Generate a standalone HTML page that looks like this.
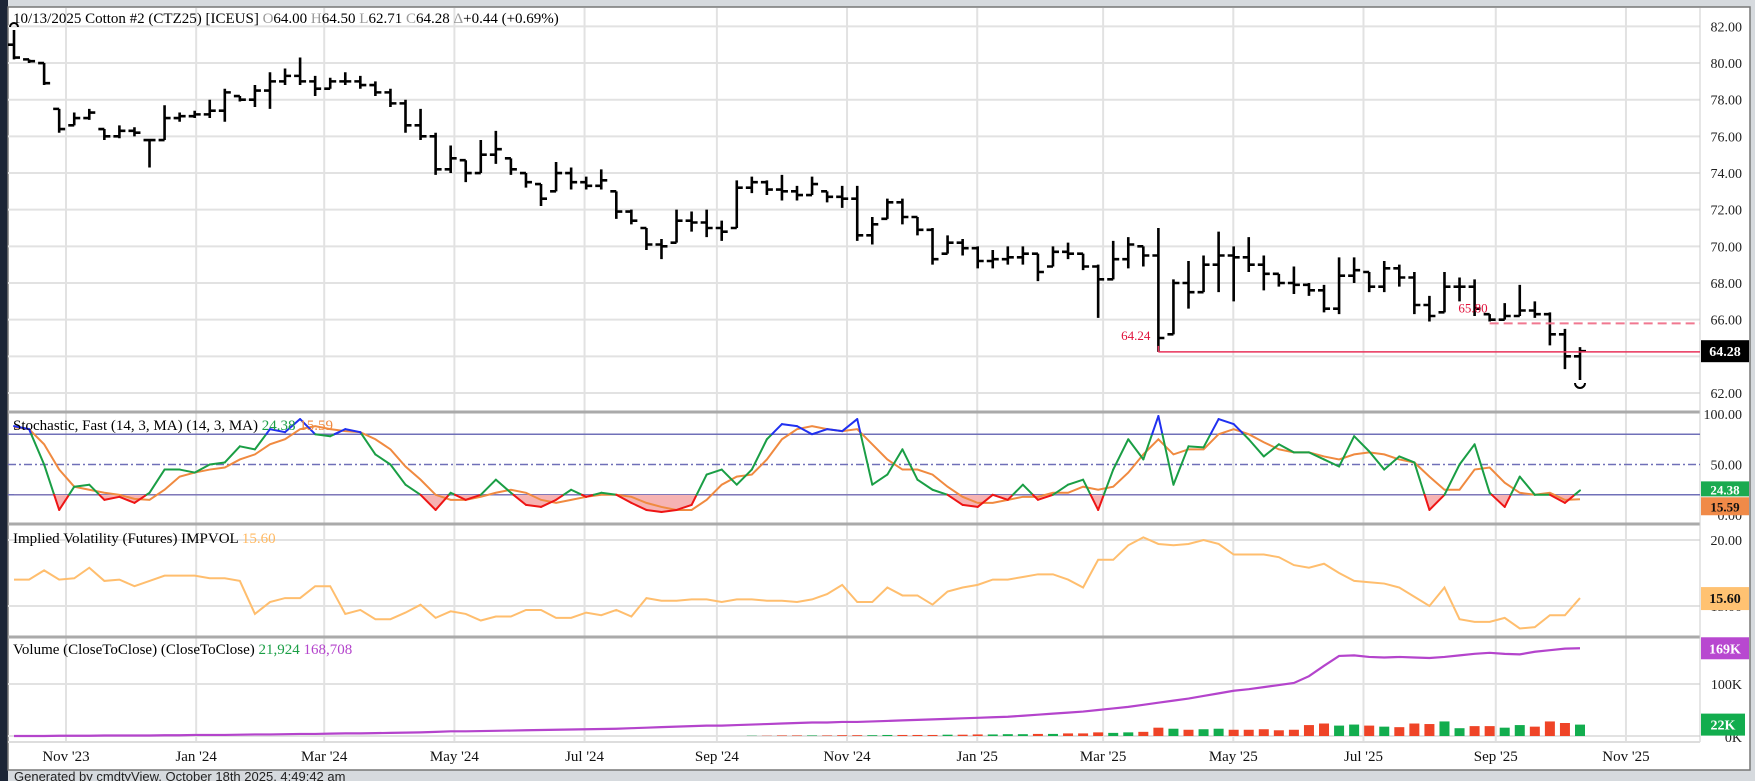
<!DOCTYPE html>
<html><head><meta charset="utf-8">
<style>
html,body{margin:0;padding:0;background:#d6dade;}
svg{display:block;font-family:"Liberation Serif",serif;}
</style></head>
<body>
<svg id="c" width="1755" height="781" viewBox="0 0 1755 781" xmlns="http://www.w3.org/2000/svg">
<rect x="0" y="0" width="1755" height="781" fill="#d6dade"/>
<rect x="0" y="0" width="8" height="781" fill="#1c2536"/>
<rect x="8" y="7" width="1742" height="763" fill="#fff" stroke="#777" stroke-width="1.5"/>
<g id="grid"></g>
<g id="panels"></g>
<g id="marks"></g>
<g id="labels"></g>
<text x="14" y="781" font-family="Liberation Sans, sans-serif" font-size="13" fill="#222">Generated by cmdtyView, October 18th 2025, 4:49:42 am</text>
</svg>
<script>
const highs=[81.8,80.2,80.0,77.5,77.3,77.5,76.4,76.6,76.5,75.8,77.7,77.3,77.4,78.0,78.6,78.2,78.8,79.5,79.7,80.3,79.3,79.2,79.5,79.3,79.0,78.6,78.0,77.5,76.2,75.5,74.7,75.8,76.3,74.8,74.0,73.4,74.6,74.3,73.8,74.2,73.0,72.0,71.0,70.4,72.0,71.9,72.0,71.4,73.6,73.8,73.6,73.9,73.3,73.8,73.0,73.3,73.3,71.6,72.6,72.6,71.6,71.0,70.6,70.4,70.0,69.8,70.0,70.0,69.6,70.0,70.2,69.6,69.0,70.3,70.5,70.0,71.0,68.2,69.2,69.5,70.8,70.0,70.5,69.5,68.5,68.9,68.0,67.9,69.4,69.4,68.6,69.2,69.0,68.6,67.3,68.6,68.3,68.2,66.3,66.9,67.9,67.0,66.4,65.5,64.5];
const lows=[80.2,80.0,78.8,76.2,76.6,76.9,75.8,75.9,76.0,74.3,75.8,76.8,77.0,77.0,76.8,77.9,77.6,77.5,78.8,78.8,78.2,78.6,78.8,78.6,78.2,77.6,76.2,75.8,73.9,74.0,73.5,74.0,74.5,73.9,73.2,72.2,73.0,73.1,73.1,73.1,71.5,71.2,69.8,69.3,70.2,70.8,70.5,70.3,71.0,72.9,72.8,72.5,72.5,72.8,72.4,72.1,70.3,70.1,71.5,71.2,70.6,69.0,69.6,69.5,68.8,68.8,69.0,69.0,68.1,68.9,69.3,68.7,66.1,68.2,68.8,68.9,64.24,65.2,66.6,67.5,67.5,67.0,68.6,67.6,67.8,67.4,67.3,66.4,66.3,68.0,67.5,67.5,67.8,66.3,65.9,66.4,67.0,66.2,65.9,66.0,66.2,66.1,64.6,63.3,62.71];
const closes=[80.3,80.1,78.9,76.4,77.0,77.3,76.0,76.3,76.2,75.8,77.0,77.1,77.2,77.4,78.4,78.0,78.5,79.0,79.3,79.0,78.6,79.0,79.0,78.8,78.4,77.8,76.6,76.0,74.2,74.8,74.0,75.0,75.3,74.2,73.5,72.6,74.0,73.5,73.3,73.6,71.9,71.4,70.1,70.0,71.4,71.3,71.0,70.8,73.2,73.5,73.1,73.0,72.8,73.4,72.7,72.6,70.6,71.2,72.4,71.6,70.9,69.3,70.2,69.9,69.2,69.3,69.4,69.6,68.6,69.7,69.6,68.9,68.2,69.3,70.1,69.5,65.0,68.0,67.5,69.0,69.5,69.4,69.0,68.5,68.0,67.9,67.6,66.6,68.4,68.7,67.8,68.8,68.3,66.8,66.2,67.8,67.8,66.6,66.0,66.2,66.5,66.3,65.2,64.0,64.28];
const firstOpen=81.0, lastOpen=64.00;
const stochK=[88,85,50,5,28,30,15,18,12,22,45,45,42,50,52,68,65,85,82,95,80,78,85,82,60,50,30,20,5,22,15,20,35,22,10,8,15,25,18,22,20,12,5,3,5,10,40,45,30,45,75,90,88,80,85,83,95,30,40,65,35,25,20,10,8,20,15,30,15,20,30,35,5,45,75,55,98,30,68,67,95,90,75,58,70,62,62,55,48,78,63,45,58,52,5,20,50,70,22,8,38,20,20,12,24.38];
const stochD=[87,85,70,45,28,25,22,20,16,15,25,38,42,45,47,55,60,70,75,85,88,85,83,82,75,65,48,35,20,15,15,18,22,25,22,15,12,15,18,20,20,18,12,8,5,5,15,30,38,40,55,75,85,88,85,83,85,70,55,45,45,40,28,18,12,12,15,18,18,22,22,28,25,28,42,60,75,60,65,65,80,85,80,72,65,62,62,58,55,60,62,60,55,52,38,25,25,45,47,32,22,20,22,15,15.59];
const impVol=[17.0,17.0,17.7,17.0,17.1,17.9,16.9,17.0,16.5,16.9,17.3,17.3,17.3,17.1,17.1,16.9,14.4,15.3,15.6,15.6,16.5,16.5,14.4,14.7,14.0,14.0,14.5,15.1,14.1,14.6,14.4,13.9,14.2,14.2,14.7,14.7,14.1,14.1,14.5,14.3,14.7,14.2,15.6,15.4,15.4,15.5,15.5,15.3,15.5,15.5,15.4,15.4,15.3,15.5,15.9,16.6,15.3,15.3,16.4,15.8,15.8,15.1,16.1,16.4,16.6,17.0,17.0,17.2,17.4,17.4,17.0,16.4,18.5,18.5,19.6,20.2,19.7,19.6,19.7,20.0,19.7,18.9,18.9,18.9,18.7,18.1,17.9,18.2,17.5,16.9,16.8,16.7,16.4,15.7,15.0,16.4,14.0,13.8,13.8,14.1,13.3,13.4,14.3,14.3,15.6];
const openInt=[0,0,0,0.5,0.5,0.5,1,1,1,1,1.5,1.5,2,2,2,2.5,3,3,3.5,4,4,4.5,5,5,5.5,6,6.5,7,8,9,9,9.5,10,10.5,11,11.5,12,12.5,13,13.5,14,15,16,17,18,19,20,20,21,22,23,24,25,26,26,27,27,28,29,30,31,32,33,34,35,36,37,39,41,43,45,47,50,53,56,60,64,68,72,77,82,87,90,94,98,102,115,135,154,155,152,151,152,151,150,152,155,158,160,158,157,162,165,168,168.7];
const volume=[0,0,0,0,0,0,0,0,0,0,0,0,0,0,0,0,0,0,0,0,0,0,0,0,0,0,0,0,0,0,0,0,0,0,0,0,0,0,0,0,0,0,0,0,0,0,0,0,0,0.5,0.5,1,1,1,1,1.5,1.5,1.5,2,2,2,2,2.5,2.5,3,3,3.5,3.5,4,4,5,5,7,6,7,8,16,14,12,13,14,12,12,13,11,12,21,24,20,22,20,18,17,24,23,28,15,19,19,16,21,18,28,25,21.9];
const monthTicks=[["2023-11-01","Nov '23"],["2024-01-01","Jan '24"],["2024-03-01","Mar '24"],["2024-05-01","May '24"],["2024-07-01","Jul '24"],["2024-09-01","Sep '24"],["2024-11-01","Nov '24"],["2025-01-01","Jan '25"],["2025-03-01","Mar '25"],["2025-05-01","May '25"],["2025-07-01","Jul '25"],["2025-09-01","Sep '25"],["2025-11-01","Nov '25"]];
const priceTicks=[62,64,66,68,70,72,74,76,78,80,82];
const supportLevel=64.24, resistLevel=65.80, lastPrice=64.28;

const NS="http://www.w3.org/2000/svg";
const PL=8, PR=1700;
const xBar=i=>14+i*((1580-14)/(closes.length-1));
const xDate=d=>66+(new Date(d)-new Date("2023-11-01"))/864e5*2.134;
const yP=p=>283-(p-68)*18.33;
const yS=v=>515-v*1.01;
const yV=v=>540-(v-20)*13.2;
const yVol=v=>736-v*0.52;
function mk(tag,attrs,parent,text){const e=document.createElementNS(NS,tag);for(const k in attrs)e.setAttribute(k,attrs[k]);if(text!==undefined)e.textContent=text;document.getElementById(parent).appendChild(e);return e;}

// vertical grid + x labels
monthTicks.forEach(t=>{const x=xDate(t[0]);
 const g=mk('line',{x1:x,x2:x,y1:8,y2:742,stroke:'#e2e2e2','stroke-width':2},'grid');
 
 const l=mk('text',{x:x,y:761,'text-anchor':'middle','font-size':15,fill:'#111'},'labels',t[1]);
 });
// price grid
priceTicks.forEach(p=>{const y=yP(p);
 const g=mk('line',{x1:PL,x2:PR,y1:y,y2:y,stroke:'#e2e2e2','stroke-width':2},'grid');
 
 const l=mk('text',{x:1742,y:y+5,'text-anchor':'end','font-size':14,fill:'#222'},'labels',p.toFixed(2));
 });
// other grids
[[yV(20)],[yV(15)],[yVol(100)],[yVol(0)]].forEach(a=>{const g=mk('line',{x1:PL,x2:PR,y1:a[0],y2:a[0],stroke:'#e2e2e2','stroke-width':2},'grid');
 });
// panel separators
[412,524,637].forEach(y=>{const s=mk('line',{x1:PL,x2:PR,y1:y,y2:y,stroke:'#aaa','stroke-width':3},'panels');
 });
const ax=mk('line',{x1:PR,x2:PR,y1:8,y2:742,stroke:'#ccc','stroke-width':1},'panels');

const bl=mk('line',{x1:PL,x2:PR,y1:742,y2:742,stroke:'#ddd','stroke-width':2},'panels');


// OHLC bars
closes.forEach((c,i)=>{const x=xBar(i);const o=i===0?firstOpen:(i===closes.length-1?lastOpen:Math.min(highs[i],Math.max(lows[i],closes[i-1])));
 const p=`M${x},${yP(highs[i])}V${yP(lows[i])}M${x-6},${yP(o)}H${x}M${x},${yP(c)}H${x+6}`;
 const b=mk('path',{d:p,stroke:'#000','stroke-width':2.6,fill:'none'},'marks');
 });
const a1=mk('path',{d:`M${xBar(0)-4},${yP(highs[0])-3}a4,4 0 0 1 8,0`,stroke:'#000','stroke-width':2,fill:'none'},'marks');

const n=closes.length-1;
const a2=mk('path',{d:`M${xBar(n)-5},${yP(lows[n])+3}a5,5 0 0 0 10,0`,stroke:'#000','stroke-width':2,fill:'none'},'marks');

// support/resistance
const sIdx=lows.indexOf(supportLevel);
const sl=mk('line',{x1:xBar(sIdx),x2:PR,y1:yP(supportLevel),y2:yP(supportLevel),stroke:'#e8335a','stroke-width':1.5},'marks');

const sv=mk('line',{x1:xBar(sIdx),x2:xBar(sIdx),y1:yP(supportLevel),y2:yP(supportLevel)-6,stroke:'#e8335a','stroke-width':1.5},'marks');

const st=mk('text',{x:xBar(sIdx)-8,y:yP(supportLevel)-12,'text-anchor':'end','font-size':13,fill:'#e0103a'},'labels',supportLevel.toFixed(2));

const rl=mk('line',{x1:xBar(98),x2:PR,y1:yP(resistLevel),y2:yP(resistLevel),stroke:'#f07890','stroke-width':2,'stroke-dasharray':'9,5'},'marks');

const rt=mk('text',{x:xBar(98)-2,y:yP(resistLevel)-11,'text-anchor':'end','font-size':13,fill:'#e0103a'},'labels',resistLevel.toFixed(2));

const pb=mk('rect',{x:1701,y:yP(lastPrice)-11,width:48,height:22,fill:'#000'},'labels');

const pt=mk('text',{x:1725,y:yP(lastPrice)+5,'text-anchor':'middle','font-size':14,'font-weight':'bold',fill:'#fff'},'labels',lastPrice.toFixed(2));


// Stochastic
[[80,'none'],[20,'none'],[50,'8,3,2,3']].forEach(a=>{const l=mk('line',{x1:PL,x2:PR,y1:yS(a[0]),y2:yS(a[0]),stroke:'#7070b8','stroke-width':1.5,'stroke-dasharray':a[1]},'marks');
 });
const clip=mk('clipPath',{id:'below20'},'marks');
const cr=document.createElementNS(NS,'rect');cr.setAttribute('x',0);cr.setAttribute('y',yS(20));cr.setAttribute('width',1755);cr.setAttribute('height',100);clip.appendChild(cr);
let poly=`M${xBar(0)},${yS(20)}`;stochK.forEach((v,i)=>poly+=`L${xBar(i)},${yS(v)}`);poly+=`L${xBar(stochK.length-1)},${yS(20)}Z`;
const fl=mk('path',{d:poly,fill:'#f6b3b3','clip-path':'url(#below20)'},'marks');

let dp='';stochD.forEach((v,i)=>dp+=(i?'L':'M')+xBar(i)+','+yS(v));
const dl=mk('path',{d:dp,stroke:'#f08a40','stroke-width':2,fill:'none'},'marks');

for(let i=0;i<stochK.length-1;i++){const a=stochK[i],b=stochK[i+1];const ts=[0,1];
 [20,80].forEach(t=>{if((a-t)*(b-t)<0)ts.push((t-a)/(b-a));});ts.sort((p,q)=>p-q);
 for(let j=0;j<ts.length-1;j++){const t0=ts[j],t1=ts[j+1];const m=a+(b-a)*(t0+t1)/2;
  const col=m<20?'#ee1515':(m>80?'#2030f0':'#1a9e45');
  const x0=xBar(i)+(xBar(i+1)-xBar(i))*t0,x1=xBar(i)+(xBar(i+1)-xBar(i))*t1;
  const s=mk('line',{x1:x0,x2:x1,y1:yS(a+(b-a)*t0),y2:yS(a+(b-a)*t1),stroke:col,'stroke-width':2,'stroke-linecap':'round'},'marks');
  }}
[[100,0],[50,0],[0,0]].forEach(a=>{const l=mk('text',{x:1742,y:yS(a[0])+5,'text-anchor':'end','font-size':14,fill:'#222'},'labels',a[0].toFixed(2));
 });
const kb=mk('rect',{x:1701,y:yS(stochK[n])-9,width:48,height:15,fill:'#1aaa50'},'labels');
const kt=mk('text',{x:1725,y:yS(stochK[n])+4,'text-anchor':'middle','font-size':13,'font-weight':'bold',fill:'#fff'},'labels',stochK[n].toFixed(2));
const db=mk('rect',{x:1701,y:yS(stochD[n])-2,width:48,height:18,fill:'#f08a48'},'labels');
const dt=mk('text',{x:1725,y:yS(stochD[n])+12,'text-anchor':'middle','font-size':13,'font-weight':'bold',fill:'#111'},'labels',stochD[n].toFixed(2));

// Implied vol
let ip='';impVol.forEach((v,i)=>ip+=(i?'L':'M')+xBar(i)+','+yV(v));
const il=mk('path',{d:ip,stroke:'#ffbe6e','stroke-width':2,fill:'none'},'marks');
const i20=mk('text',{x:1742,y:yV(20)+5,'text-anchor':'end','font-size':14,fill:'#222'},'labels','20.00');
const i15=mk('text',{x:1742,y:yV(15)+5,'text-anchor':'end','font-size':14,fill:'#222'},'labels','15.00');
const ib=mk('rect',{x:1701,y:yV(impVol[n])-11,width:48,height:23,fill:'#ffc272'},'labels');
const it=mk('text',{x:1725,y:yV(impVol[n])+5,'text-anchor':'middle','font-size':14,'font-weight':'bold',fill:'#111'},'labels',impVol[n].toFixed(2));

// Volume
volume.forEach((v,i)=>{if(v<=0)return;const up=i>0&&closes[i]>=closes[i-1];const x=xBar(i);
 const r=mk('rect',{x:x-5,y:yVol(v),width:10,height:yVol(0)-yVol(v),fill:up?'#12ad4e':'#ef4427'},'marks');
 });
let op='';openInt.forEach((v,i)=>op+=(i?'L':'M')+xBar(i)+','+yVol(v));
const ol=mk('path',{d:op,stroke:'#b444cc','stroke-width':2.2,fill:'none'},'marks');
const v100=mk('text',{x:1742,y:yVol(100)+5,'text-anchor':'end','font-size':14,fill:'#222'},'labels','100K');
const v0=mk('text',{x:1742,y:yVol(0)+6,'text-anchor':'end','font-size':14,fill:'#222'},'labels','0K');
const ob=mk('rect',{x:1701,y:yVol(openInt[n])-11,width:48,height:22,fill:'#b848d0'},'labels');
const ot=mk('text',{x:1725,y:yVol(openInt[n])+5,'text-anchor':'middle','font-size':14,'font-weight':'bold',fill:'#fff'},'labels',Math.round(openInt[n])+'K');
const vb=mk('rect',{x:1701,y:yVol(volume[n])-11,width:44,height:22,fill:'#12ad4e'},'labels');
const vt=mk('text',{x:1723,y:yVol(volume[n])+5,'text-anchor':'middle','font-size':14,'font-weight':'bold',fill:'#fff'},'labels',Math.round(volume[n])+'K');

// Titles
function title(y,parts,name){const t=mk('text',{x:13,y:y,'font-size':15,fill:'#000'},'labels');
 parts.forEach(p=>{const s=document.createElementNS(NS,'tspan');s.setAttribute('fill',p[1]);s.textContent=p[0];t.appendChild(s);});}
title(23,[["10/13/2025 Cotton #2 (CTZ25) [ICEUS] ","#000"],["O","#999"],["64.00 ","#000"],["H","#999"],["64.50 ","#000"],["L","#999"],["62.71 ","#000"],["C","#999"],["64.28 ","#000"],["Δ","#999"],["+0.44 (+0.69%)","#000"]],'price-title');
title(430,[["Stochastic, Fast (14, 3, MA)  (14, 3, MA)  ","#000"],["24.38 ","#1a9e45"],["15.59","#f08a40"]],'stoch-title');
title(543,[["Implied Volatility (Futures)  IMPVOL  ","#000"],["15.60","#ffb860"]],'impvol-title');
title(654,[["Volume (CloseToClose)  (CloseToClose)  ","#000"],["21,924  ","#1a9e45"],["168,708","#b444cc"]],'volume-title');
</script>
</body></html>
